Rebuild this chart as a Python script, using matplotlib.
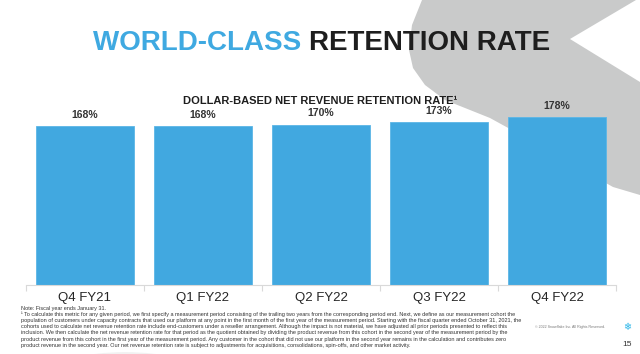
import matplotlib
matplotlib.use('Agg')
import matplotlib.pyplot as plt
from matplotlib.patches import Polygon, Circle

# Data
quarters = ['Q4 FY21', 'Q1 FY22', 'Q2 FY22', 'Q3 FY22', 'Q4 FY22']
retention = [168, 168, 170, 173, 178]
value_labels = ['168%', '168%', '170%', '173%', '178%']

footnotes = [
    'Note: Fiscal year ends January 31.',
    '\u00b9 To calculate this metric for any given period, we first specify a measurement period consisting of the trailing two years from the corresponding period end. Next, we define as our measurement cohort the',
    'population of customers under capacity contracts that used our platform at any point in the first month of the first year of the measurement period. Starting with the fiscal quarter ended October 31, 2021, the',
    'cohorts used to calculate net revenue retention rate include end-customers under a reseller arrangement. Although the impact is not material, we have adjusted all prior periods presented to reflect this',
    'inclusion. We then calculate the net revenue retention rate for that period as the quotient obtained by dividing the product revenue from this cohort in the second year of the measurement period by the',
    'product revenue from this cohort in the first year of the measurement period. Any customer in the cohort that did not use our platform in the second year remains in the calculation and contributes zero',
    'product revenue in the second year. Our net revenue retention rate is subject to adjustments for acquisitions, consolidations, spin-offs, and other market activity.',
]

plt.rcParams['font.family'] = ['Liberation Sans', 'DejaVu Sans']

W, H = 640, 354
fig = plt.figure(figsize=(6.4, 3.54), dpi=100)
fig.patch.set_facecolor('white')


def px(x, y):
    return (x / W, 1 - y / H)


# decorative background shapes
shape = [(422, 0), (412, 25), (409, 50), (413, 68), (425, 85), (445, 100),
         (470, 110), (490, 118), (530, 140), (570, 163), (613, 187), (640, 195),
         (640, 82), (570, 39), (636, 0)]
fig.patches.append(Polygon([px(x, y) for x, y in shape], closed=True,
                           transform=fig.transFigure, facecolor='#c9caca',
                           edgecolor='none', zorder=-5))
fig.patches.append(Circle(px(125, 430), 0.22, transform=fig.transFigure,
                          facecolor='#f1f1f1', edgecolor='none', zorder=-5))

# bars
ax = fig.add_axes([26 / W, 1 - 285 / H, 590 / W, 184 / H])
ax.set_zorder(2)
ax.patch.set_alpha(0)
ax.bar(range(len(quarters)), retention, width=0.83, color='#41a8e0',
       edgecolor='#5bb6e6', linewidth=0.6, zorder=2)
ax.set_xlim(-0.5, len(quarters) - 0.5)
ax.set_ylim(0, 195)
for i, v in enumerate(retention):
    ax.annotate(value_labels[i], (i, v), xytext=(0, 4.5), textcoords='offset points',
                ha='center', va='bottom', fontsize=7.5, fontweight='bold', color='#333333')
for s in ['top', 'right', 'left']:
    ax.spines[s].set_visible(False)
ax.spines['bottom'].set_color('#d9d9d9')
ax.spines['bottom'].set_linewidth(0.8)
ax.set_yticks([])
ax.set_xticks([i - 0.5 for i in range(len(quarters) + 1)])
ax.set_xticklabels([])
ax.tick_params(axis='x', length=4, color='#d9d9d9', width=0.8)
for i, q in enumerate(quarters):
    ax.text(i, -7.5, q, ha='center', va='top', fontsize=9.5, color='#262626')

# titles
t1 = fig.text(*px(93, 50), 'WORLD-CLASS ', fontsize=20, fontweight='bold',
              color='#3fa9e1', ha='left', va='baseline')
fig.canvas.draw()
bb = t1.get_window_extent(fig.canvas.get_renderer())
fig.text(bb.x1 / fig.bbox.width, 1 - 50 / H, 'RETENTION RATE', fontsize=20,
         fontweight='bold', color='#1e1e1e', ha='left', va='baseline')
fig.text(*px(320, 104), 'DOLLAR-BASED NET REVENUE RETENTION RATE\u00b9', fontsize=8,
         fontweight='bold', color='#1e1e1e', ha='center', va='baseline')

# footnotes
for k, line in enumerate(footnotes):
    fig.text(*px(21, 310 + k * 6.1), line, fontsize=4.0, color='#333333',
             ha='left', va='baseline')

fig.text(*px(535, 328), '\u00a9 2022 Snowflake Inc. All Rights Reserved.', fontsize=2.6,
         color='#777777', ha='left', va='baseline')
fig.text(*px(627, 327), '\u2744', fontsize=7, color='#29b5e8', ha='center',
         va='center', family='DejaVu Sans')
fig.text(*px(627, 346), '15', fontsize=6, color='#333333', ha='center', va='baseline')

fig.savefig('out.png', dpi=100)
